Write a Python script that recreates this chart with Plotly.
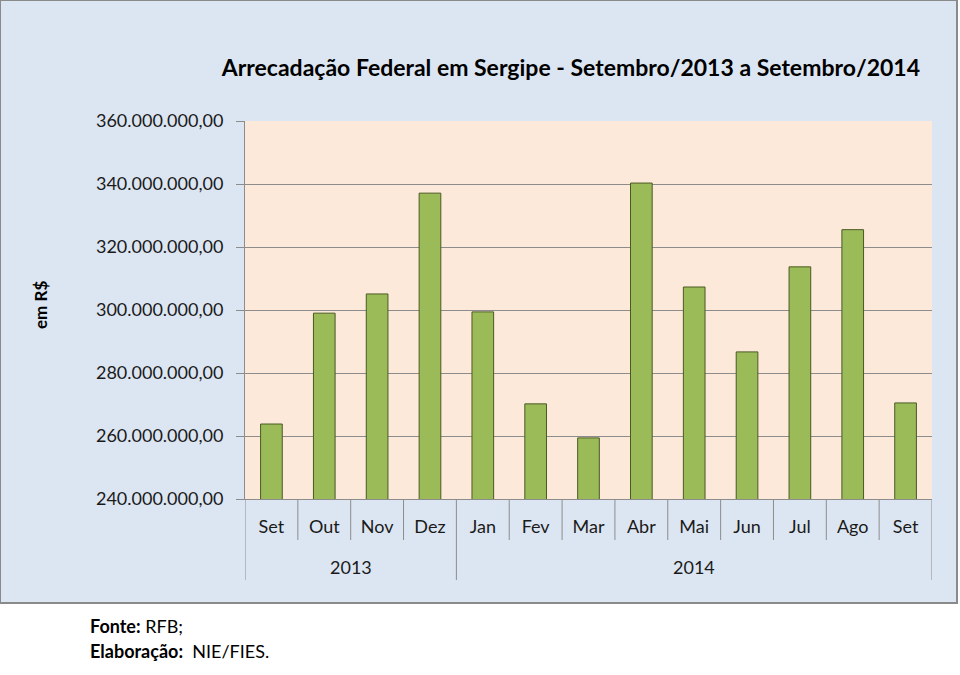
import plotly.graph_objects as go

# dados: arrecadação mensal (R$)
anos = ["2013"] * 4 + ["2014"] * 9
meses = ["Set", "Out", "Nov", "Dez", "Jan", "Fev", "Mar", "Abr", "Mai", "Jun", "Jul", "Ago", "Set"]
valores = [263.8e6, 299.0e6, 305.1e6, 337.1e6, 299.4e6, 270.2e6, 259.4e6,
           340.3e6, 307.3e6, 286.7e6, 313.7e6, 325.5e6, 270.5e6]
ticks_y = [240e6, 260e6, 280e6, 300e6, 320e6, 340e6, 360e6]
ticks_y_txt = ["240.000.000,00", "260.000.000,00", "280.000.000,00", "300.000.000,00",
               "320.000.000,00", "340.000.000,00", "360.000.000,00"]

FONTE = "Lato"
GRADE = "#8c8c8c"
W, H = 960, 675
L, R, T, B = 245, 28, 121, 176
PW, PH = W - L - R, H - T - B

ids = [m + "/" + a for m, a in zip(meses, anos)]

fig = go.Figure()
fig.add_trace(go.Bar(
    x=list(range(len(ids))), y=valores,
    marker=dict(color="#9bbb59", line=dict(color="#4a5a23", width=1)),
))

fig.update_layout(
    width=W, height=H,
    paper_bgcolor="white",
    plot_bgcolor="#fde9d9",
    margin=dict(l=L, r=R, t=T, b=B),
    bargap=0.59,
    showlegend=False,
    font=dict(family=FONTE, size=18, color="#1a1a1a"),
    title=dict(text="<b>Arrecadação Federal em Sergipe - Setembro/2013 a Setembro/2014</b>",
               x=920 / W, xanchor="right", y=1 - 68 / H, yanchor="middle",
               font=dict(family=FONTE, size=23, color="black")),
)

fig.update_yaxes(
    range=[240e6, 360e6], tickvals=ticks_y, ticktext=ticks_y_txt,
    showgrid=True, gridcolor=GRADE, gridwidth=1,
    showline=True, linecolor=GRADE, linewidth=1,
    ticks="outside", ticklen=8, tickcolor=GRADE, ticklabelstandoff=9,
    zeroline=False,
)
fig.update_xaxes(
    range=[-0.5, len(ids) - 0.5],
    tickvals=list(range(len(ids))), ticktext=meses,
    showline=True, linecolor=GRADE, linewidth=1,
    ticks="", showgrid=False, zeroline=False, ticklabelstandoff=11,
)

# painel azul de fundo
fig.add_shape(type="rect", xref="paper", yref="paper",
              x0=-L / PW, x1=(957 - L) / PW,
              y0=(499 - 603) / PH, y1=499 / PH,
              fillcolor="#dce6f2", line=dict(color="#8a8a8a", width=2), layer="below")
# área de plotagem
fig.add_shape(type="rect", xref="paper", yref="paper", x0=0, x1=1, y0=0, y1=1,
              fillcolor="#fde9d9", line=dict(width=0), layer="below")

# marcas entre meses e divisões entre anos
limites_ano = [i for i in range(1, len(anos)) if anos[i] != anos[i - 1]]
for i in range(len(ids) + 1):
    grupo = i in (0, len(ids)) or i in limites_ano
    comp = 81 if grupo else 41
    fig.add_shape(type="line", xref="x", yref="paper",
                  x0=i - 0.5, x1=i - 0.5, y0=0, y1=-comp / PH,
                  line=dict(color=GRADE, width=1))

# rótulos dos anos
inicio = 0
for fim in limites_ano + [len(anos)]:
    fig.add_annotation(text=anos[inicio], xref="x", yref="paper",
                       x=(inicio + fim - 1) / 2, y=-68 / PH, showarrow=False,
                       xanchor="center", yanchor="middle",
                       font=dict(family=FONTE, size=18, color="#1a1a1a"))
    inicio = fim

fig.add_annotation(text="<b>em R$</b>", xref="paper", yref="paper",
                   x=(40 - L) / PW, y=(499 - 305) / PH, textangle=-90, showarrow=False,
                   xanchor="center", yanchor="middle",
                   font=dict(family=FONTE, size=17, color="black"))
fig.add_annotation(text="<b>Fonte:</b> RFB;", xref="paper", yref="paper",
                   x=(88 - L) / PW, xanchor="left", y=(499 - 626) / PH, yanchor="middle",
                   showarrow=False, font=dict(family=FONTE, size=18, color="black"))
fig.add_annotation(text="<b>Elaboração:</b>  NIE/FIES.", xref="paper", yref="paper",
                   x=(88 - L) / PW, xanchor="left", y=(499 - 651) / PH, yanchor="middle",
                   showarrow=False, font=dict(family=FONTE, size=18, color="black"))

fig.write_html("out.html", config={"displayModeBar": False},
               post_script="document.body.style.margin='0px';")
